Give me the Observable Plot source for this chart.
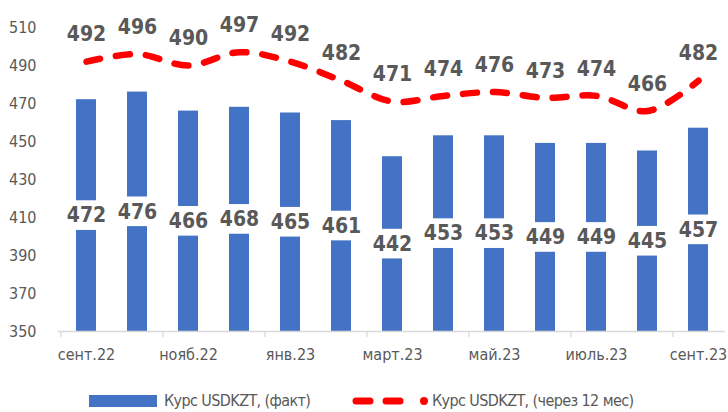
<!DOCTYPE html>
<html>
<head>
<meta charset="utf-8">
<script src="https://cdn.jsdelivr.net/npm/d3@7"></script>
<script src="https://cdn.jsdelivr.net/npm/@observablehq/plot@0.6"></script>
<style>
  html, body { margin: 0; padding: 0; background: #fff; }
  body { width: 728px; height: 412px; overflow: hidden; position: relative;
         font-family: "DejaVu Sans Condensed", sans-serif; }
  #chart svg { display: block; }
  .legend { position: absolute; left: 0; top: 372px; width: 728px; height: 40px; }
  .lg-item { position: absolute; top: 19px; display: flex; align-items: center;
             font-size: 16px; letter-spacing: -0.6px; color: #595959; white-space: nowrap; }
</style>
</head>
<body>
<div id="chart"></div>
<div class="legend">
  <div class="lg-item" id="lg1"></div>
  <div class="lg-item" id="lg2"></div>
</div>
<script>
const months = ["сент.22","окт.22","нояб.22","дек.22","янв.23","февр.23","март.23","апр.23","май.23","июнь.23","июль.23","авг.23","сент.23"];
const fact = [472,476,466,468,465,461,442,453,453,449,449,445,457];
const forecast = [492,496,490,497,492,482,471,474,476,473,474,466,482];
const yTicks = [350,370,390,410,430,450,470,490,510];
const xTickLabels = ["сент.22","нояб.22","янв.23","март.23","май.23","июль.23","сент.23"];
const seriesNames = ["Курс USDKZT, (факт)", "Курс USDKZT, (через 12 мес)"];

const data = months.map((m, i) => ({month: m, fact: fact[i], forecast: forecast[i]}));
const W = 728, H = 372, ML = 58, MR = 3, MT = 27, MB = 41;
const step = (W - ML - MR) / months.length;
const tickCats = months.filter((m, i) => i % 2 === 0);
const grey = "#595959";
const font = "'DejaVu Sans Condensed', sans-serif";

const chart = Plot.plot({
  width: W, height: H,
  marginLeft: ML, marginRight: MR, marginTop: MT, marginBottom: MB,
  style: {fontFamily: font, background: "#fff"},
  x: {domain: months, type: "band", paddingInner: 0.61, paddingOuter: 0.305, axis: null},
  y: {domain: [350, 510], axis: null},
  marks: [
    Plot.barY(data, {x: "month", y1: 350, y2: "fact", fill: "#4472c4"}),
    // white label boxes at middle of bars
    Plot.barY(data, {x: "month", y1: d => (350 + d.fact) / 2 - 7.8, y2: d => (350 + d.fact) / 2 + 7.8, fill: "#fff", insetLeft: -2, insetRight: -2}),
    Plot.text(data, {x: "month", y: d => (350 + d.fact) / 2, text: d => String(d.fact), fill: grey, fontSize: 21, fontWeight: "bold"}),
    Plot.ruleY([350], {stroke: "#d9d9d9", strokeWidth: 1.3}),
    Plot.ruleX(tickCats, {x: d => d, y1: 350, y2: 350, insetBottom: -6, dx: -step / 2, stroke: "#d9d9d9", strokeWidth: 1.3}),
    Plot.lineY(data, {x: "month", y: "forecast", stroke: "#ff0000", strokeWidth: 6.5, strokeDasharray: "14 16", strokeLinecap: "round", curve: "catmull-rom"}),
    Plot.text(data, {x: "month", y: "forecast", text: d => String(d.forecast), dy: -27, fill: grey, fontSize: 21, fontWeight: "bold"}),
    Plot.axisY({ticks: yTicks, tickSize: 0, tickPadding: 22, fontSize: 16, color: grey, tickFormat: d => String(d), label: null, style: {letterSpacing: "-0.5px"}}),
    Plot.axisX({ticks: xTickLabels, tickSize: 0, tickPadding: 17, fontSize: 16, color: grey, label: null, style: {letterSpacing: "-0.5px"}})
  ]
});
document.getElementById("chart").appendChild(chart);

// Legend
const lg1 = document.getElementById("lg1");
lg1.style.left = "89px";
lg1.innerHTML = `<svg width="68" height="12" style="margin-right:7px"><rect width="68" height="12" fill="#4472c4"/></svg><span>${seriesNames[0]}</span>`;
const lg2 = document.getElementById("lg2");
lg2.style.left = "352px";
lg2.innerHTML = `<svg width="78" height="12" style="margin-right:2px"><line x1="4" x2="62" y1="6" y2="6" stroke="#ff0000" stroke-width="7" stroke-linecap="round" stroke-dasharray="14 16"/><circle cx="72" cy="6" r="4" fill="#ff0000"/></svg><span>${seriesNames[1]}</span>`;
</script>
</body>
</html>
